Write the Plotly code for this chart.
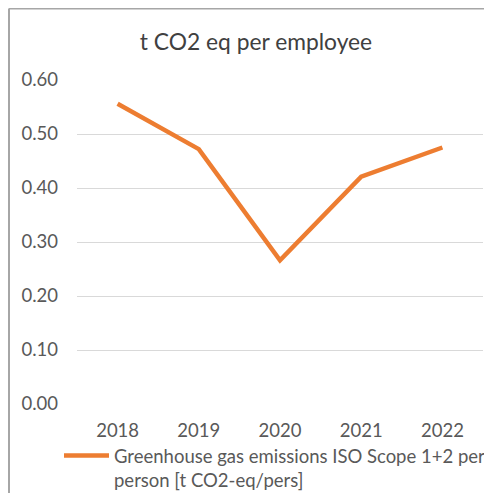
import plotly.graph_objects as go

years = ["2018", "2019", "2020", "2021", "2022"]
values = [0.556, 0.472, 0.266, 0.421, 0.475]
y_ticks = [0.0, 0.1, 0.2, 0.3, 0.4, 0.5, 0.6]
y_tick_labels = ["0.00", "0.10", "0.20", "0.30", "0.40", "0.50", "0.60"]
series_name = "Greenhouse gas emissions ISO Scope 1+2 per<br>person [t CO2-eq/pers]"
title_text = "t CO2 eq per employee"

# page has an 8px body margin: the figure starts at page (8, 8)
OFF = 8
W, H = 492 - OFF, 493 - OFF
# plot area in page pixels: x 77..483, y 80..404
L, R, T, B = 77 - OFF, 492 - 483, 80 - OFF, 493 - 404
pw, ph = W - L - R, H - T - B

def px_x(p):  # page pixel -> paper x
    return (p - OFF - L) / pw

def px_y(p):  # page pixel -> paper y
    return (H - B - (p - OFF)) / ph

FONT = "Lato"
GREY = "#595959"
ORANGE = "#ED7D31"

fig = go.Figure()
fig.add_trace(go.Scatter(
    x=years, y=values, mode="lines", name=series_name,
    line=dict(color=ORANGE, width=4.5),
))

fig.update_layout(
    width=W, height=H,
    margin=dict(l=L, r=R, t=T, b=B, pad=0, autoexpand=False),
    paper_bgcolor="white", plot_bgcolor="white",
    font=dict(family=FONT, color=GREY, size=16),
    title=dict(text=title_text, font=dict(family=FONT, size=22.8, color="#404040"),
               xref="container", x=(256 - OFF) / W, xanchor="center",
               yref="container", y=1 - (42 - OFF) / H, yanchor="middle"),
    showlegend=True,
    legend=dict(orientation="h", x=px_x(59), xanchor="left",
                y=px_y(437), yanchor="top", valign="top",
                font=dict(family=FONT, size=18.5, color=GREY),
                itemwidth=45, bgcolor="rgba(0,0,0,0)"),
    xaxis=dict(type="category", range=[-0.5, 4.5], automargin=False,
               showgrid=False, zeroline=False, showline=False,
               ticks="", ticklabelstandoff=13, tickfont=dict(size=18.5, color=GREY)),
    yaxis=dict(range=[0, 0.6], tickvals=y_ticks, ticktext=y_tick_labels,
               automargin=False,
               showgrid=True, gridcolor="#d9d9d9", gridwidth=1,
               zeroline=False, showline=False, ticks="",
               ticklabelstandoff=18, tickfont=dict(size=18.5, color=GREY)),
    shapes=[
        dict(type="line", xref="paper", yref="paper",
             x0=px_x(9), x1=px_x(9), y0=px_y(8.5), y1=px_y(520),
             line=dict(color="#a6a6a6", width=2)),
        dict(type="line", xref="paper", yref="paper",
             x0=px_x(9), x1=px_x(520), y0=px_y(8.5), y1=px_y(8.5),
             line=dict(color="#a6a6a6", width=2)),
    ],
)

fig.write_html("out.html")
